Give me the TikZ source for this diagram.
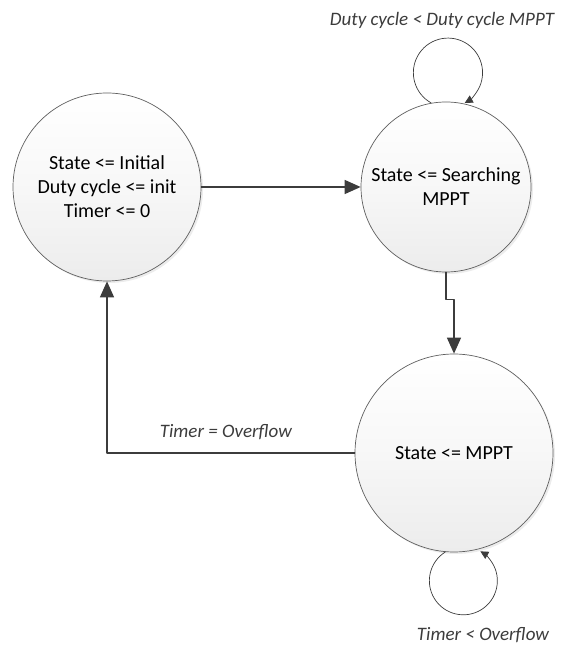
\documentclass[tikz,border=0pt]{standalone}
\usepackage{fontspec}
\setmainfont{Carlito}
\usepackage{tikz}
\usetikzlibrary{arrows.meta,calc,positioning,shadows}
\definecolor{statefill}{RGB}{236,236,236}
\definecolor{stateline}{RGB}{95,95,95}
\definecolor{flowline}{RGB}{60,60,60}

\begin{document}
\begin{tikzpicture}[x=1pt,y=1pt,>={Triangle[length=16pt,width=14pt]},
  line cap=round,line join=round,
  fsm/.style={circle,draw=stateline,line width=.7pt,top color=white,
   bottom color=statefill,middle color=statefill!40,align=center,
   font=\fontsize{20}{24}\selectfont,
   drop shadow={shadow xshift=2pt,shadow yshift=-2pt,opacity=.15,fill=gray}},
  flow/.style={flowline,line width=1.4pt},
  loopflow/.style={flowline,line width=.7pt,-{Triangle[length=8pt,width=8pt]}},
  cond/.style={font=\fontsize{19}{22}\selectfont\itshape,text=flowline}]
 \useasboundingbox (0,0) rectangle (565,645);
 % states
 \node[fsm,minimum size=188pt] (initst) at (107,458)
  {State <= Initial\\Duty cycle <= init\\Timer <= 0};
 \node[fsm,minimum size=170pt] (searchst) at (446,458)
  {State <= Searching\\MPPT};
 \node[fsm,minimum size=198pt] (mpptst) at (454,192) {State <= MPPT};
 % transitions
 \draw[->,flow] (initst.east) -- (searchst.west);
 \draw[->,flow] (searchst.south) -- ++(0,-27) -| (mpptst.north);
 \draw[->,flow] (mpptst.west) -| (initst.south)
  node[pos=.26,above=9pt,cond] (ovlbl) {Timer = Overflow};
 % self loops
 \draw[loopflow] (searchst.100) arc[start angle=241,end angle=-61,radius=34.6];
 \draw[loopflow] (mpptst.265) arc[start angle=122,end angle=420,radius=34];
 \node[cond] (dutylbl) at (442,625) {Duty cycle < Duty cycle MPPT};
 \node[cond] (timerlbl) at (483,10) {Timer < Overflow};
\end{tikzpicture}
\end{document}
